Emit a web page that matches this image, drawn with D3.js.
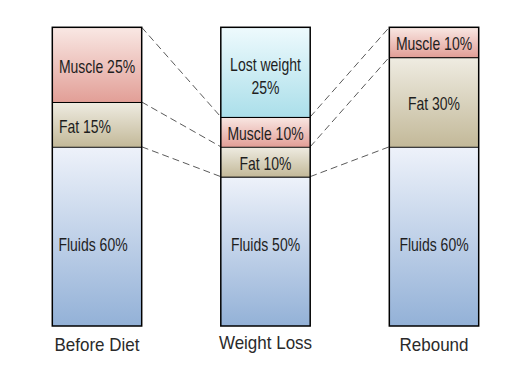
<!DOCTYPE html>
<html>
<head>
<meta charset="utf-8">
<script src="https://cdn.jsdelivr.net/npm/d3@7"></script>
<style>
  body { margin: 0; background: #fff; }
  .seg-label { font-family: "Liberation Sans", Arial, sans-serif; font-size: 14px; fill: #1e1e1e; }
  .cat-label { font-family: "Liberation Sans", Arial, sans-serif; font-size: 17px; fill: #2a2a2a; }
</style>
</head>
<body>
<svg id="chart" width="532" height="380"></svg>
<script>
var categories = ['Before Diet', 'Weight Loss', 'Rebound'];
var segments = ['fluids', 'fat', 'muscle', 'lost'];
// drawn share of each bar, bottom to top
var fluids = [60, 50, 60];
var fat = [15, 10, 30];
var muscle = [25, 10, 10];
var lost = [0, 30, 0];
var labels = {
    fluids: ['Fluids 60%', 'Fluids 50%', 'Fluids 60%'],
    fat: ['Fat 15%', 'Fat 10%', 'Fat 30%'],
    muscle: ['Muscle 25%', 'Muscle 10%', 'Muscle 10%'],
    lost: ['', 'Lost weight|25%', '']
};

var colors = {
    fluids: ['#eef2fa', '#93b1d7'],
    fat: ['#efece2', '#c3b999'],
    muscle: ['#f9e8e4', '#e29f97'],
    lost: ['#eefafd', '#abdfea']
};

// small horizontal nudges of some labels, as in the original
var labelShift = { fluids: [-4, 0, 0], fat: [-12, 0, 0], muscle: [0, 0, 0], lost: [0, 0, 0] };

var svg = d3.select('#chart');

var rows = categories.map((c, i) => ({
    cat: c, fluids: fluids[i], fat: fat[i], muscle: muscle[i], lost: lost[i]
}));

var stack = d3.stack().keys(segments)(rows);

var xScale = d3.scaleBand()
                .domain(categories)
                .range([52.3, 478.7])
                .paddingInner(0.4695)
                .paddingOuter(0);

var yScale = d3.scaleLinear()
                .domain([0, 100])
                .range([326, 27.3]);

var defs = svg.append('defs');
segments.forEach(k => {
    var g = defs.append('linearGradient')
                .attr('id', 'grad-' + k)
                .attr('x1', 0).attr('y1', 0)
                .attr('x2', 0).attr('y2', 1);
    g.append('stop').attr('offset', '0%').attr('stop-color', colors[k][0]);
    g.append('stop').attr('offset', '100%').attr('stop-color', colors[k][1]);
});

// dashed connectors between the tops of matching segments
var connKeys = ['fluids', 'fat', 'muscle'];
var connectors = [];
for (var i = 0; i < categories.length - 1; i++) {
    connKeys.forEach(k => {
        var s = stack.find(l => l.key === k);
        connectors.push({
            x1: xScale(categories[i]) + xScale.bandwidth(),
            y1: yScale(s[i][1]),
            x2: xScale(categories[i + 1]),
            y2: yScale(s[i + 1][1])
        });
    });
}

svg.selectAll('.connector')
    .data(connectors)
    .enter()
    .append('line')
        .classed('connector', true)
        .attr('x1', d => d.x1)
        .attr('y1', d => d.y1)
        .attr('x2', d => d.x2)
        .attr('y2', d => d.y2)
        .attr('stroke', '#5a5a5a')
        .attr('stroke-width', 1)
        .attr('stroke-dasharray', '7,4');

var layers = svg.selectAll('.layer')
                .data(stack)
                .enter()
                .append('g')
                    .classed('layer', true);

layers.selectAll('rect')
    .data(d => d.filter(p => p[1] > p[0]).map(p => ({ key: d.key, p: p })))
    .enter()
    .append('rect')
        .attr('x', d => xScale(d.p.data.cat))
        .attr('y', d => yScale(d.p[1]))
        .attr('width', xScale.bandwidth())
        .attr('height', d => yScale(d.p[0]) - yScale(d.p[1]))
        .attr('fill', d => 'url(#grad-' + d.key + ')');

// segment boundaries
layers.selectAll('.sep')
    .data(d => d.filter(p => p[1] > p[0] && p[1] < 100))
    .enter()
    .append('line')
        .classed('sep', true)
        .attr('x1', d => xScale(d.data.cat))
        .attr('x2', d => xScale(d.data.cat) + xScale.bandwidth())
        .attr('y1', d => yScale(d[1]))
        .attr('y2', d => yScale(d[1]))
        .attr('stroke', '#000')
        .attr('stroke-width', 2);

// outline of each bar
svg.selectAll('.outline')
    .data(categories)
    .enter()
    .append('rect')
        .classed('outline', true)
        .attr('x', d => xScale(d))
        .attr('y', yScale(100))
        .attr('width', xScale.bandwidth())
        .attr('height', yScale(0) - yScale(100))
        .attr('fill', 'none')
        .attr('stroke', '#000')
        .attr('stroke-width', 1.5);

// segment labels (text in the original is stretched tall)
layers.each(function(layer) {
    var g = d3.select(this);
    layer.forEach((p, i) => {
        if (p[1] <= p[0]) return;
        var txt = labels[layer.key][i].split('|');
        var cx = xScale(p.data.cat) + xScale.bandwidth() / 2 + labelShift[layer.key][i];
        var cy = (yScale(p[0]) + yScale(p[1])) / 2 + 1.5;
        if (layer.key === 'fluids') cy = yScale(p[0]) - 82;
        if (txt.length > 1) cy += 2;
        var lh = 22.7;
        txt.forEach((t, j) => {
            g.append('text')
                .classed('seg-label', true)
                .attr('transform', `translate(${cx}, ${cy + (j - (txt.length - 1) / 2) * lh}) scale(1, 1.33)`)
                .attr('dy', '0.36em')
                .style('text-anchor', 'middle')
                .text(t);
        });
    });
});

// category labels
svg.selectAll('.cat-label')
    .data(categories)
    .enter()
    .append('text')
        .classed('cat-label', true)
        .attr('transform', (d, i) => `translate(${xScale(d) + xScale.bandwidth() / 2}, ${i === 1 ? 342.5 : 344.7}) scale(1, 1.1)`)
        .attr('dy', '0.36em')
        .style('text-anchor', 'middle')
        .text(d => d);
</script>
</body>
</html>
